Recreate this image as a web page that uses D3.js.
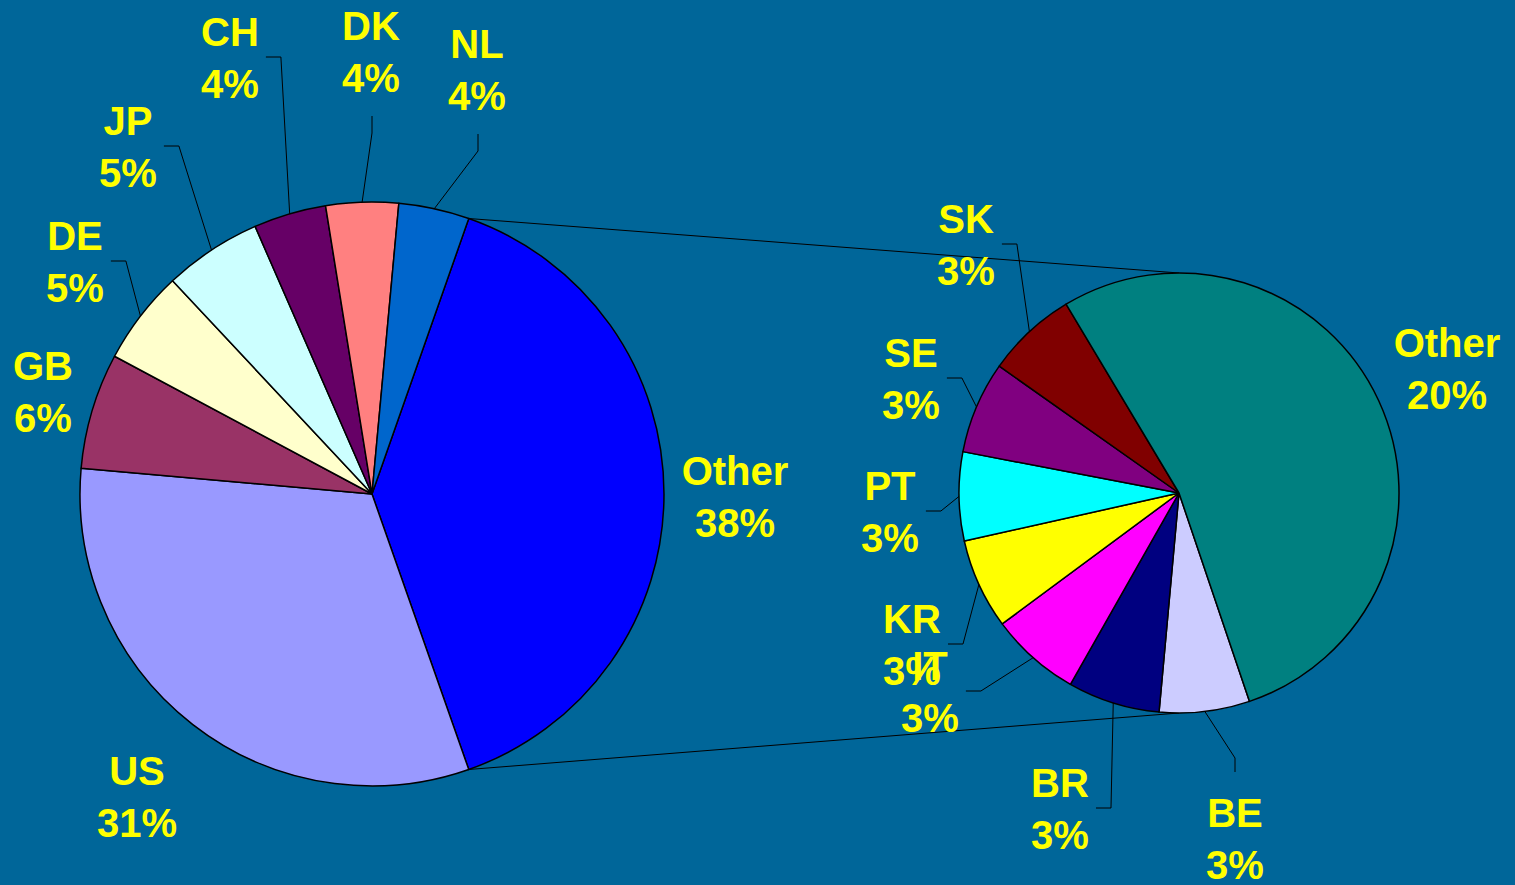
<!DOCTYPE html>
<html>
<head>
<meta charset="utf-8">
<script src="https://cdn.jsdelivr.net/npm/d3@7"></script>
<style>
  html, body { margin: 0; padding: 0; background: #006699; }
  svg { display: block; }
</style>
</head>
<body>
<div id="chart"></div>
<script>
// main pie (clockwise from the "Other" slice)
var mainNames  = ["Other", "US", "GB", "DE", "JP", "CH", "DK", "NL"];
var mainValues = [null, 31.7, 6.4, 5.2, 5.4, 4.0, 4.0, 3.9];   // Other = sum of the second pie
var mainShown  = ["38%", "31%", "6%", "5%", "5%", "4%", "4%", "4%"];

// second pie, split of "Other" (clockwise from BE)
var secNames  = ["BE", "BR", "IT", "KR", "PT", "SE", "SK", "Other"];
var secValues = [2.6, 2.65, 2.6, 2.6, 2.55, 2.65, 2.6, 20.9];
var secShown  = ["3%", "3%", "3%", "3%", "3%", "3%", "3%", "20%"];

var mainColors = ["#0000FF", "#9999FF", "#993366", "#FFFFCC", "#CCFFFF", "#660066", "#FF8080", "#0066CC"];
var secColors  = ["#CCCCFF", "#000080", "#FF00FF", "#FFFF00", "#00FFFF", "#800080", "#800000", "#008080"];

mainValues[0] = d3.sum(secValues);

// label placement, offsets from the pie centre (x = text centre, y = first baseline)
// leader: "h" = elbow to the right of the label, "v" = below, "up" = above
var mainLabelPos = [[363, -9], [-235, 291], [-329, -114], [-297, -244], [-244, -359], [-142, -448], [-1, -454], [105, -436]];
var mainLeader   = [null, null, null, "h", "h", "h", "v", "v"];
var secLabelPos  = [[56, 334], [-119, 304], [-249, 187], [-267, 140], [-289, 7], [-268, -126], [-213, -260], [268, -136]];
var secLeader    = ["up", "h", "h", "h", "h", "h", "h", null];

var W = 1515, H = 885;
var main = {cx: 372, cy: 494, r: 292};
var sec  = {cx: 1179, cy: 493, r: 220};
var rad = Math.PI / 180;

var svg = d3.select("#chart")
  .append("svg")
    .attr("width", W)
    .attr("height", H);

svg.append("rect")
  .attr("width", W)
  .attr("height", H)
  .attr("fill", "#006699");

// pie layouts
var mainTotal = d3.sum(mainValues);
var otherSpan = mainValues[0] / mainTotal * 2 * Math.PI;
var mainPie = d3.pie().sort(null)
  .startAngle(Math.PI / 2 - otherSpan / 2)
  .endAngle(Math.PI / 2 - otherSpan / 2 + 2 * Math.PI);
var secPie = d3.pie().sort(null)
  .startAngle(161.3 * rad)
  .endAngle(161.3 * rad + 2 * Math.PI);

var mainArcs = mainPie(mainValues);
var secArcs = secPie(secValues);

function pt(p, a, r) {
  return [p.cx + r * Math.sin(a), p.cy - r * Math.cos(a)];
}

// connector lines between the "Other" slice and the second pie
var o = mainArcs[0];
var a1 = pt(main, o.startAngle, main.r), a2 = pt(main, o.endAngle, main.r);
svg.append("line")
  .attr("x1", a1[0]).attr("y1", a1[1])
  .attr("x2", sec.cx).attr("y2", sec.cy - sec.r)
  .attr("stroke", "#000").attr("stroke-width", 1);
svg.append("line")
  .attr("x1", a2[0]).attr("y1", a2[1])
  .attr("x2", sec.cx).attr("y2", sec.cy + sec.r)
  .attr("stroke", "#000").attr("stroke-width", 1);

function drawPie(p, arcs, colors) {
  var arc = d3.arc().innerRadius(0).outerRadius(p.r);
  svg.append("g")
    .attr("transform", "translate(" + p.cx + "," + p.cy + ")")
    .selectAll("path")
    .data(arcs)
    .enter()
    .append("path")
      .attr("d", arc)
      .attr("fill", function(d, i) { return colors[i]; })
      .attr("stroke", "#000")
      .attr("stroke-width", 1.5)
      .attr("stroke-linejoin", "round");
}

drawPie(main, mainArcs, mainColors);
drawPie(sec, secArcs, secColors);

function drawLabels(p, arcs, names, shown, pos, leader) {
  var lines = svg.append("g");
  var labels = svg.append("g");
  arcs.forEach(function(d, i) {
    var x = p.cx + pos[i][0], y = p.cy + pos[i][1];
    var t = labels.append("text")
      .attr("x", x)
      .attr("y", y)
      .attr("text-anchor", "middle")
      .style("font-family", "'Liberation Sans', Arial, sans-serif")
      .style("font-weight", "bold")
      .style("font-size", "40px")
      .attr("fill", "#FFFF00");
    t.append("tspan").attr("x", x).text(names[i]);
    t.append("tspan").attr("x", x).attr("dy", 52).text(shown[i]);

    if (!leader[i]) return;
    var bb = t.node().getBBox();
    var mid = (d.startAngle + d.endAngle) / 2;
    var e = pt(p, mid, p.r);
    var s, k;
    if (leader[i] == "h") {
      s = [bb.x + bb.width + 7, y + 11];
      k = [s[0] + 15, s[1]];
    } else if (leader[i] == "v") {
      s = [x + 1, y + 52 + 24];
      k = [s[0], s[1] + 17];
    } else {
      s = [x, y - 55];
      k = [s[0], s[1] - 14];
    }
    lines.append("path")
      .attr("d", d3.line()([s, k, e]))
      .attr("fill", "none")
      .attr("stroke", "#000")
      .attr("stroke-width", 1);
  });
}

drawLabels(main, mainArcs, mainNames, mainShown, mainLabelPos, mainLeader);
drawLabels(sec, secArcs, secNames, secShown, secLabelPos, secLeader);
</script>
</body>
</html>
